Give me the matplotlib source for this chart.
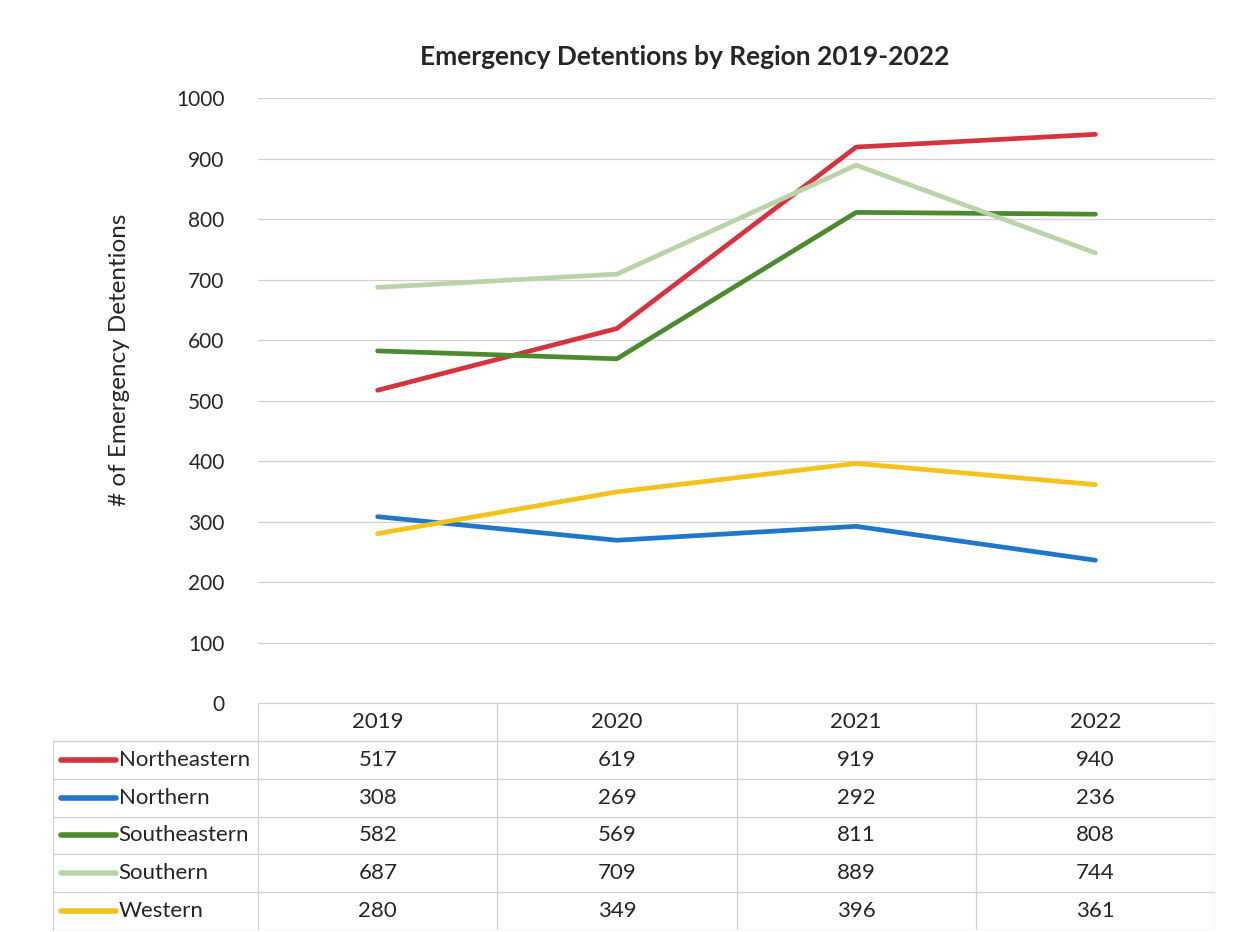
import matplotlib.pyplot as plt

years = ["2019", "2020", "2021", "2022"]
regions = ["Northeastern", "Northern", "Southeastern", "Southern", "Western"]
northeastern = [517, 619, 919, 940]
northern = [308, 269, 292, 236]
southeastern = [582, 569, 811, 808]
southern = [687, 709, 889, 744]
western = [280, 349, 396, 361]
colors = ["#d7333f", "#1f77c9", "#4b8a2e", "#b9d4a8", "#f3c31c"]

series = [northeastern, northern, southeastern, southern, western]

plt.rcParams["font.family"] = ["Lato", "DejaVu Sans"]
text_color = "#262626"
grid_color = "#d0d0d0"

fig = plt.figure(figsize=(12.41, 9.32), dpi=100)

# main line chart
ax = fig.add_axes([0.2079, 0.2457, 0.7712, 0.6491])
x = list(range(len(years)))
for vals, c in zip(series, colors):
    ax.plot(x, vals, color=c, lw=3.4, solid_capstyle="round", zorder=3)
ax.set_xlim(-0.5, 3.5)
ax.set_ylim(0, 1000)
ax.set_yticks(range(0, 1001, 100))
ax.set_xticks([])
ax.tick_params(axis="y", length=0, pad=24, labelsize=15, labelcolor=text_color)
ax.grid(axis="y", color=grid_color, lw=0.9)
for s in ax.spines.values():
    s.set_visible(False)
fig.text(120 / 1241, 1 - 360 / 932, "# of Emergency Detentions", rotation=90,
         ha="center", va="center", fontsize=17.5, color=text_color)
fig.text(0.552, 1 - 57 / 932, "Emergency Detentions by Region 2019-2022",
         ha="center", va="center", fontsize=19, fontweight="bold", color=text_color)

# data table with legend keys under the chart
tab = fig.add_axes([53 / 1241, 1 - 930 / 932, (1215 - 53) / 1241, (930 - 703) / 932])
label_w = 205 / 239
tab.set_xlim(-0.5 - label_w, 3.5)
tab.set_ylim(len(regions) + 1, 0)
tab.axis("off")

n_rows = len(regions) + 1
# horizontal rules
tab.plot([-0.5, 3.5], [0, 0], color=grid_color, lw=0.9)
for r in range(1, n_rows + 1):
    tab.plot([-0.5 - label_w, 3.5], [r, r], color=grid_color, lw=0.9)
# vertical rules
tab.plot([-0.5 - label_w] * 2, [1, n_rows], color=grid_color, lw=0.9)
for c in range(len(years) + 1):
    tab.plot([c - 0.5] * 2, [0, n_rows], color=grid_color, lw=0.9)

for i, yr in enumerate(years):
    tab.text(i, 0.5, yr, ha="center", va="center", fontsize=16, color=text_color)

key_x0 = -0.5 - label_w + 0.035
key_x1 = key_x0 + 0.23
for r, (name, vals, c) in enumerate(zip(regions, series, colors), start=1):
    tab.plot([key_x0, key_x1], [r + 0.5, r + 0.5], color=c, lw=4, solid_capstyle="round")
    tab.text(key_x1 + 0.01, r + 0.5, name, ha="left", va="center", fontsize=16, color=text_color)
    for i, v in enumerate(vals):
        tab.text(i, r + 0.5, str(v), ha="center", va="center", fontsize=16, color=text_color)

fig.savefig("out.png", dpi=100, facecolor="white")
